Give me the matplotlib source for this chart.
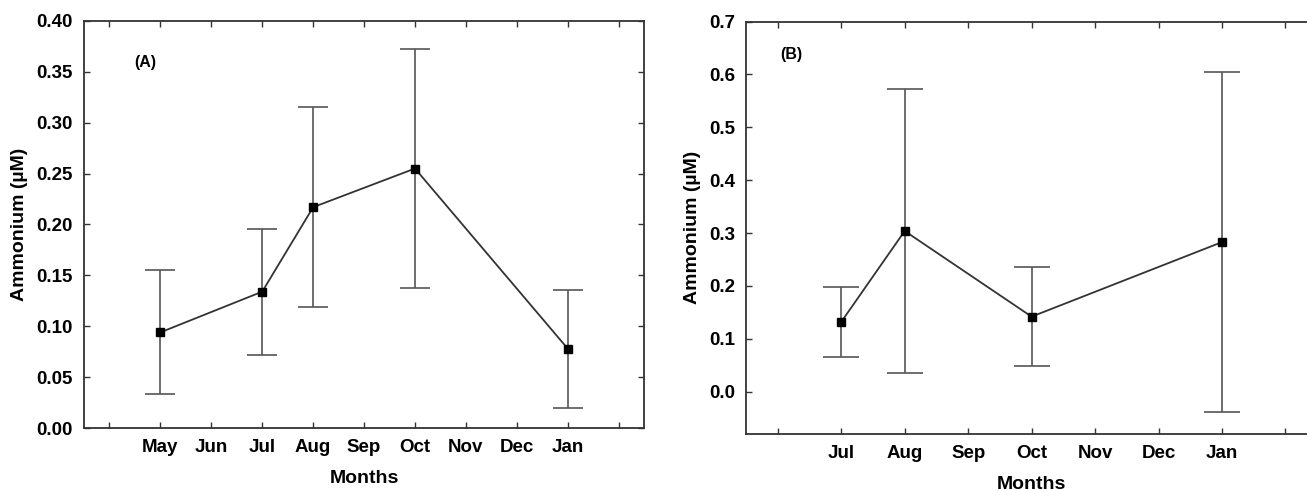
import numpy as np
import matplotlib
matplotlib.use("Agg")
import matplotlib.pyplot as plt

plt.rcParams['font.family'] = ['Liberation Sans', 'DejaVu Sans']
plt.rcParams['font.weight'] = 'bold'

# month axis: all months shown as ticks, only some labelled
months_a = ["Apr", "May", "Jun", "Jul", "Aug", "Sep", "Oct", "Nov", "Dec", "Jan", "Feb"]
labels_a = ["", "May", "Jun", "Jul", "Aug", "Sep", "Oct", "Nov", "Dec", "Jan", ""]
sampled_a = ["May", "Jul", "Aug", "Oct", "Jan"]
mean_a = [0.094, 0.134, 0.217, 0.255, 0.078]
err_a = [0.061, 0.062, 0.098, 0.117, 0.058]

months_b = ["Jun", "Jul", "Aug", "Sep", "Oct", "Nov", "Dec", "Jan", "Feb"]
labels_b = ["", "Jul", "Aug", "Sep", "Oct", "Nov", "Dec", "Jan", ""]
sampled_b = ["Jul", "Aug", "Oct", "Jan"]
mean_b = [0.132, 0.304, 0.142, 0.283]
err_b = [0.067, 0.268, 0.094, 0.322]

yticks_a = [0.0, 0.05, 0.10, 0.15, 0.20, 0.25, 0.30, 0.35, 0.40]
yticks_b = [0.0, 0.1, 0.2, 0.3, 0.4, 0.5, 0.6, 0.7]


def panel(ax, months, labels, sampled, mean, err, yticks, ylim, fmt, tag, tagpos, capsize):
	x = [months.index(m) for m in sampled]
	ax.errorbar(x, mean, yerr=err, fmt='none', ecolor='#555555', elinewidth=1.2,
				capsize=capsize, capthick=1.2)
	ax.plot(x, mean, color='#333333', linewidth=1.3, marker='s', markersize=6,
			markerfacecolor='black', markeredgecolor='black', zorder=3)
	ax.set_xticks(range(len(months)))
	ax.set_xticklabels(labels)
	ax.set_xlim(-0.5, len(months) - 0.5)
	ax.set_yticks(yticks)
	ax.set_yticklabels([fmt.format(v) for v in yticks])
	ax.set_ylim(*ylim)
	ax.tick_params(direction='in', length=4, width=1, top=True, right=True,
				   labelsize=13.5, pad=8, color='#333333')
	for s in ax.spines.values():
		s.set_linewidth(1.3)
		s.set_color('#333333')
	ax.set_xlabel("Months", fontsize=14, fontweight='bold', labelpad=10)
	ax.set_ylabel("Ammonium (\u00b5M)", fontsize=14, fontweight='bold', labelpad=6)
	ax.text(tagpos[0], tagpos[1], tag, fontsize=11.5, fontweight='bold', ha='center', va='center')


fig = plt.figure(figsize=(13.07, 4.91), dpi=100)
ax1 = fig.add_axes([0.0643, 0.1283, 0.4285, 0.829])
# panel B runs past the right edge of the figure, as in the original scan
ax2 = fig.add_axes([0.5708, 0.116, 0.437, 0.840])

panel(ax1, months_a, labels_a, sampled_a, mean_a, err_a, yticks_a, (0, 0.40),
	  "{:.2f}", "(A)", (0.7, 0.359), 10.5)
panel(ax2, months_b, labels_b, sampled_b, mean_b, err_b, yticks_b, (-0.08, 0.70),
	  "{:.1f}", "(B)", (0.21, 0.637), 13)

fig.savefig("out.png", dpi=100)
